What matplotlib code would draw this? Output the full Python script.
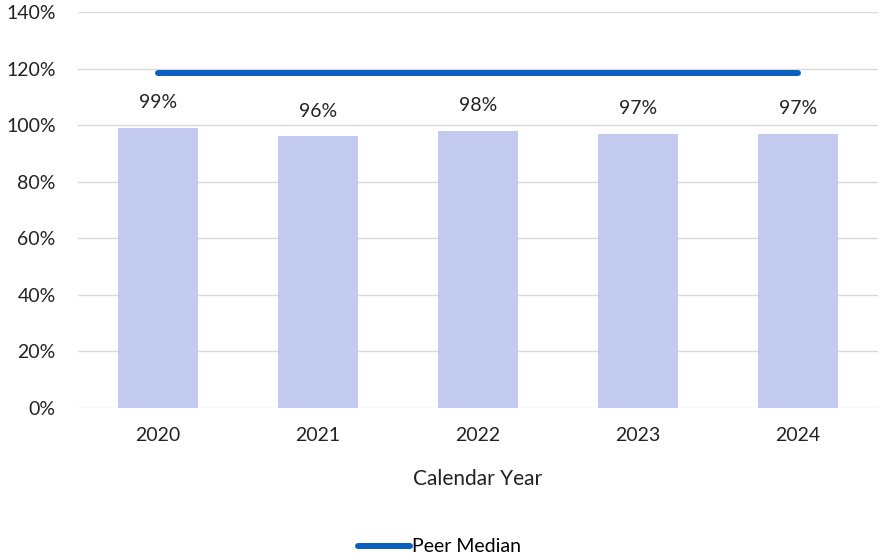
import matplotlib
matplotlib.use("Agg")
import matplotlib.pyplot as plt
from matplotlib.ticker import FuncFormatter
from matplotlib.lines import Line2D

years = ["2020", "2021", "2022", "2023", "2024"]
values = [99, 96, 98, 97, 97]
peer_median = [118.5, 118.5, 118.5, 118.5, 118.5]
yticks = [0, 20, 40, 60, 80, 100, 120, 140]

plt.rcParams['font.family'] = ['Lato', 'DejaVu Sans']

fig = plt.figure(figsize=(8.79, 5.58), dpi=100)
ax = fig.add_axes([0.0887, 0.2688, 0.9103, 0.7097])

x = list(range(len(years)))
bars = ax.bar(x, values, width=0.5, color="#C2CAF0", zorder=2)
ax.plot(x, peer_median, color="#0A60C0", lw=4.3, solid_capstyle="round", zorder=3)

for xi, v in zip(x, values):
    ax.annotate(f"{v}%", (xi, v), xytext=(0, 12), textcoords="offset points",
                ha="center", va="bottom", fontsize=14, color="#222222")

ax.set_xlim(-0.5, len(years) - 0.5)
ax.set_ylim(0, 140)
ax.set_yticks(yticks)
ax.yaxis.set_major_formatter(FuncFormatter(lambda v, p: f"{int(v)}%"))
ax.set_xticks(x)
ax.set_xticklabels(years)
ax.grid(axis="y", color="#D9D9D9", lw=1, zorder=0)
ax.set_axisbelow(True)
for s in ax.spines.values():
    s.set_visible(False)
ax.tick_params(axis="both", length=0, labelsize=14, colors="#222222")
ax.tick_params(axis="y", pad=16)
ax.tick_params(axis="x", pad=14)
ax.set_xlabel("Calendar Year", fontsize=15, color="#222222", labelpad=18)

handle = Line2D([0], [0], color="#0A60C0", lw=4.3, solid_capstyle="round")
fig.legend([handle], ["Peer Median"], loc="center", bbox_to_anchor=(0.5, 0.02),
           frameon=False, fontsize=14, handlelength=2.7, handletextpad=0.1)

fig.savefig("out.png", dpi=100)
